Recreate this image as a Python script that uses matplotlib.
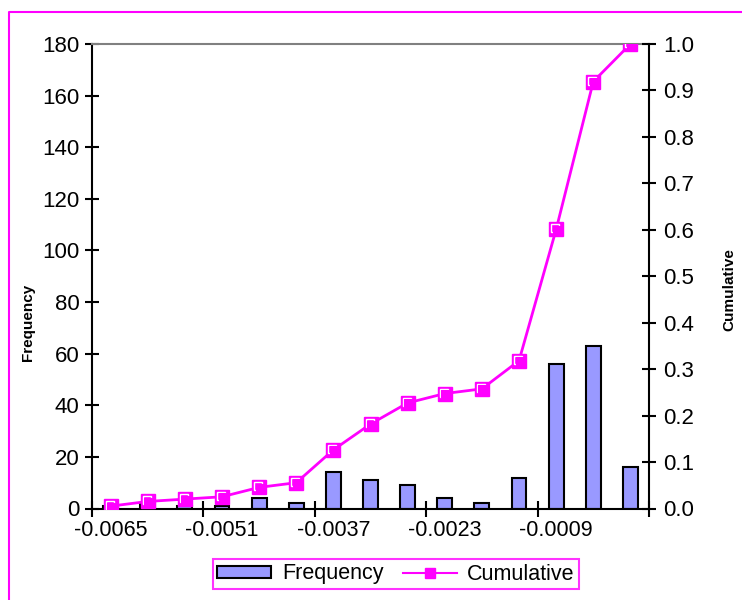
import numpy as np
import matplotlib.pyplot as plt
from matplotlib.lines import Line2D
from matplotlib.patches import Patch
from matplotlib.transforms import offset_copy

plt.rcParams['font.family'] = ['Liberation Sans', 'DejaVu Sans']

# histogram bins (upper bin edges) and counts
bins = ['-0.0065', '-0.0060', '-0.0056', '-0.0051', '-0.0046', '-0.0042',
        '-0.0037', '-0.0032', '-0.0028', '-0.0023', '-0.0018', '-0.0014',
        '-0.0009', '-0.0004', '0.0000']
frequency = [1, 2, 1, 1, 4, 2, 14, 11, 9, 4, 2, 12, 56, 63, 16]
cumulative = np.cumsum(frequency) / np.sum(frequency)

MAGENTA = '#FF00FF'

fig = plt.figure(figsize=(7.42, 6), dpi=100)
ax = fig.add_axes([92 / 742, 1 - 508.5 / 600, 557 / 742, 464.5 / 600])
ax2 = ax.twinx()

x = np.arange(len(bins))
ax.bar(x, frequency, width=0.4, color='#9999FF', edgecolor='black',
       linewidth=1.5, zorder=2)

ax2.plot(x, cumulative, color=MAGENTA, lw=2, marker='s', ms=9.5,
         mfc=MAGENTA, mec=MAGENTA, zorder=3)
# little white highlight in the top-left corner of each marker
hl = offset_copy(ax2.transData, fig=fig, x=-0.7, y=0.7, units='points')
ax2.plot(x, cumulative, ls='none', marker='s', ms=6, mfc='none',
         mec='white', mew=1, transform=hl, zorder=4)
cov = offset_copy(ax2.transData, fig=fig, x=0.4, y=-0.4, units='points')
ax2.plot(x, cumulative, ls='none', marker='s', ms=6, mfc=MAGENTA,
         mec=MAGENTA, mew=0.8, transform=cov, zorder=5)

ax.set_xlim(-0.5, len(bins) - 0.5)
ax.set_ylim(0, 180)
ax2.set_ylim(0, 1.0)

ax.set_yticks(np.arange(0, 181, 20))
ax2.set_yticks(np.arange(0, 1.01, 0.1))
ax2.set_yticklabels([f'{v:.1f}' for v in np.arange(0, 1.01, 0.1)])

ax.set_xticks(x[::3])
ax.set_xticklabels(bins[::3])
ax.set_xticks(np.arange(-0.5, len(bins), 3), minor=True)
ax.tick_params(axis='x', which='major', length=0, labelsize=15.5, pad=8)
ax.tick_params(axis='x', which='minor', direction='inout', length=11,
               width=1.5)
ax.tick_params(axis='y', direction='inout', length=10, width=1.5,
               labelsize=16, pad=4)
ax2.tick_params(axis='y', direction='inout', length=10, width=1.5,
                labelsize=16, pad=5)

for a in (ax, ax2):
    for s in a.spines.values():
        s.set_visible(False)
ax.spines['left'].set_visible(True)
ax.spines['left'].set_linewidth(1.5)
ax.spines['bottom'].set_visible(True)
ax.spines['bottom'].set_linewidth(1.5)
ax.spines['top'].set_visible(True)
ax.spines['top'].set_color('#808080')
ax.spines['top'].set_linewidth(1.5)
ax2.spines['right'].set_visible(True)
ax2.spines['right'].set_linewidth(1.5)

fig.text(28 / 742, 1 - 322 / 600, 'Frequency', rotation=90, fontsize=11,
         fontweight='bold', ha='center', va='center')
fig.text(729 / 742, 1 - 290 / 600, 'Cumulative', rotation=90, fontsize=11,
         fontweight='bold', ha='center', va='center')

handles = [Patch(facecolor='#9999FF', edgecolor='black', linewidth=1.5),
           Line2D([], [], color=MAGENTA, lw=1.5, marker='s', ms=7,
                  mfc=MAGENTA, mec=MAGENTA)]
leg = fig.legend(handles, ['Frequency', 'Cumulative'], ncol=2,
                 loc='center', bbox_to_anchor=(396 / 742, 1 - 574 / 600),
                 fontsize=15.5, frameon=True, fancybox=False,
                 handlelength=2.5, handleheight=0.5, columnspacing=0.9,
                 handletextpad=0.5, borderpad=0.2, borderaxespad=0)
leg.get_frame().set_edgecolor(MAGENTA)
leg.get_frame().set_linewidth(1.5)

# outer chart frame (only top and left edges are inside the picture)
fig.add_artist(Line2D([9 / 742, 9 / 742, 1.0], [0, 1 - 12 / 600, 1 - 12 / 600],
                      color=MAGENTA, lw=1.5, transform=fig.transFigure))

fig.savefig('out.png', dpi=100)
